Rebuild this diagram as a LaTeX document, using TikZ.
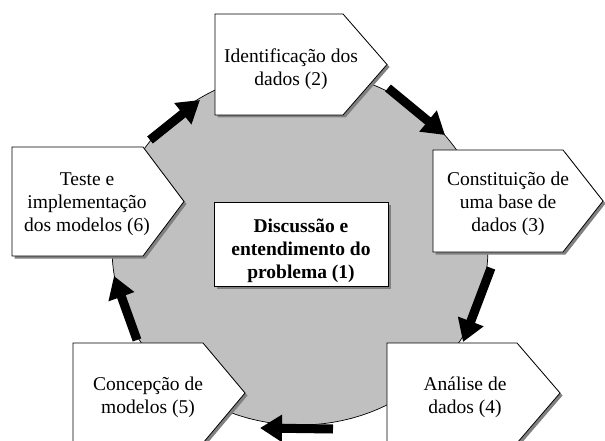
\documentclass[tikz,border=0pt]{standalone}
\usepackage{fontspec}
\setmainfont{Liberation Serif}
\usetikzlibrary{arrows.meta}
\definecolor{discgray}{HTML}{C0C0C0}
\definecolor{shadowgray}{HTML}{808080}
\newcommand{\sigbox}[5]{%
  \fill[shadowgray] ({#1+2.5},{#2+2.5}) -- ({#3+2.5},{#2+2.5}) -- ({#4+2.5},{(#2+#5)/2+2.5}) -- ({#3+2.5},{#5+2.5}) -- ({#1+2.5},{#5+2.5}) -- cycle;
  \draw[stagebox] (#1,#2) -- (#3,#2) -- (#4,{(#2+#5)/2}) -- (#3,#5) -- (#1,#5) -- cycle;
}
\begin{document}
\begin{tikzpicture}[x=1pt,y=-1pt,
  stagebox/.style={fill=white,draw=black,line width=0.8pt,line join=miter},
  stagetext/.style={align=center,inner sep=0pt,font=\fontsize{19.5}{23}\selectfont},
  boldtext/.style={align=center,inner sep=0pt,font=\fontsize{19.5}{23}\selectfont\bfseries},
  cyclearrow/.style={line width=9pt,-{Triangle[length=22pt,width=26pt]}},
]
\clip (0,0) rectangle (605,441);
\fill[white] (0,0) rectangle (605,441);
% central disc
\draw[fill=discgray,line width=0.7pt] (300,248) ellipse [x radius=188, y radius=177];
% arrows
\coordinate (a1s) at (150,140); \coordinate (a1e) at (200,100);
\coordinate (a2s) at (388,88);  \coordinate (a2e) at (445,135);
\coordinate (a3s) at (491,268); \coordinate (a3e) at (463,342);
\coordinate (a4s) at (333,429); \coordinate (a4e) at (260,428);
\coordinate (a5s) at (137,340); \coordinate (a5e) at (114,276);
\draw[cyclearrow] (a1s) -- (a1e);
\draw[cyclearrow] (a2s) -- (a2e);
\draw[cyclearrow] (a3s) -- (a3e);
\draw[cyclearrow] (a4s) -- (a4e);
\draw[cyclearrow] (a5s) -- (a5e);
% boxes
\sigbox{215}{14}{343}{387}{115}
\sigbox{433}{150}{563}{603}{252}
\sigbox{387}{343}{517}{560}{443}
\sigbox{73}{343}{203}{245}{443}
\sigbox{12}{147}{143}{184}{256}
\fill[shadowgray] (216.5,204.5) rectangle (390.5,288.5);
\draw[stagebox] (214,202) rectangle (388,286);
% texts
\node[boldtext] (s1) at (301,250.5) {Discussão e\\entendimento do\\problema (1)};
\node[stagetext] (s2) at (291,69.5) {Identificação dos\\dados (2)};
\node[stagetext] (s3) at (508,204) {Constituição de\\uma base de\\dados (3)};
\node[stagetext] (s4) at (465,397) {Análise de\\dados (4)};
\node[stagetext] (s5) at (148,397) {Concepção de\\modelos (5)};
\node[stagetext] (s6) at (87,204) {Teste e\\implementação\\dos modelos (6)};
\end{tikzpicture}
\end{document}
